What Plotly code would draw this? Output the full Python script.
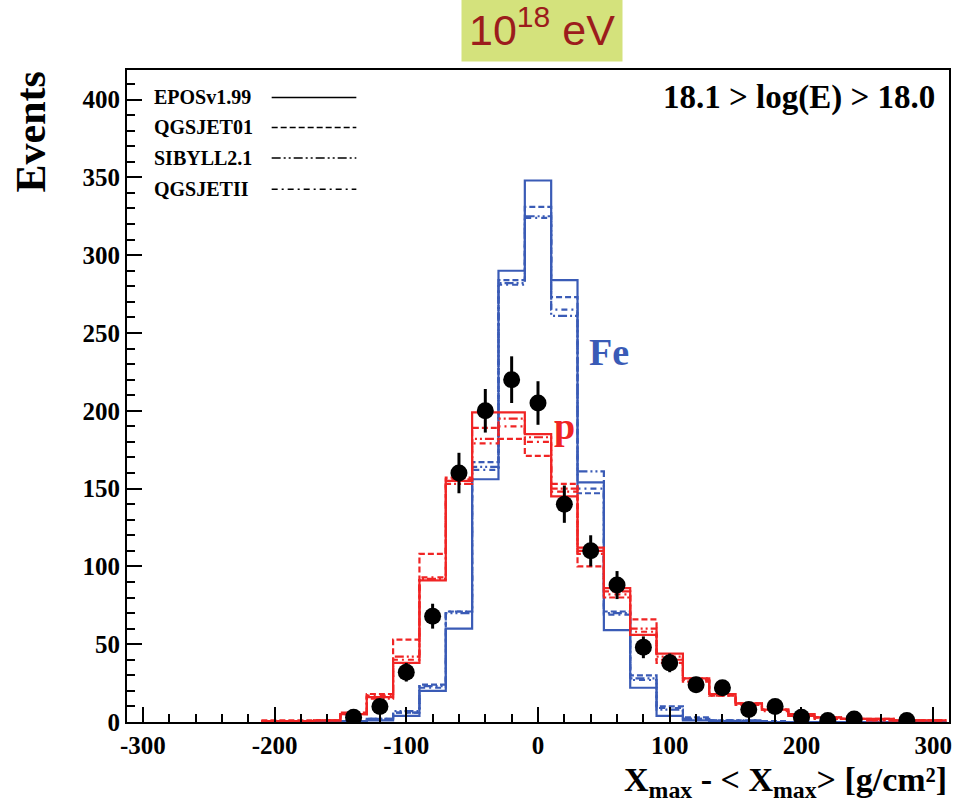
import plotly.graph_objects as go

# ---------------- data ----------------
centers = [-200, -180, -160, -140, -120, -100, -80, -60, -40, -20, 0, 20, 40,
           60, 80, 100, 120, 140, 160, 180, 200, 220, 240, 260, 280, 300]
bin_width = 20

fe_epos = [0, 0, 0, 0.5, 1, 4, 20, 60, 156, 290, 348, 284, 154, 59, 22, 4, 1, 0.5, 0, 0, 0, 0, 0, 0, 0, 0]
fe_qgs01 = [0, 0, 0, 0.5, 2, 6, 24, 71, 167, 284, 331, 273, 147, 71, 30, 10, 3, 1, 1, 0.5, 0, 0, 0, 0, 0, 0]
fe_sib = [0, 0, 0, 0.5, 2, 7, 23, 70, 164, 282, 325, 261, 161, 70, 28, 8, 2, 1, 1, 0, 0, 0, 0, 0, 0, 0]
fe_qgs2 = [0, 0, 0, 0.5, 2, 6, 22, 71, 162, 281, 324, 265, 150, 69, 27, 9, 2, 1, 0.5, 0, 0, 0, 0, 0, 0, 0]

p_epos = [0.5, 0.5, 1, 5, 16, 38, 91, 155, 199, 199, 185, 145, 112, 86, 56, 44, 28, 18, 12, 8, 5, 3, 2, 2, 1, 1]
p_qgs01 = [1, 1, 1, 5, 18, 53, 108, 157, 189, 182, 171, 153, 100, 80, 66, 38, 26, 17, 12, 8, 5, 3, 2, 2, 1, 1]
p_sib = [0.5, 0.5, 1, 6, 15, 42, 92, 153, 182, 195, 183, 150, 110, 84, 60, 42, 28, 17, 11, 8, 4, 3, 2, 1, 1, 1]
p_qgs2 = [0.5, 0.5, 1, 5, 17, 40, 93, 156, 179, 190, 180, 148, 108, 82, 58, 40, 27, 18, 12, 7, 4, 2, 2, 1, 1, 1]

data_x = [-140, -120, -100, -80, -60, -40, -20, 0, 20, 40, 60, 80, 100, 120, 140, 160, 180, 200, 220, 240, 280]
data_y = [3, 10, 32, 68, 160, 200, 220, 205, 140, 110, 88, 48, 38, 24, 22, 8, 10, 3, 1, 2, 1]
data_err = [2, 3, 6, 8, 13, 14, 15, 14, 12, 10, 9, 7, 6, 5, 5, 3, 3, 2, 1, 1, 1]

x_tickvals = [-300, -200, -100, 0, 100, 200, 300]
x_ticktext = ["-300", "-200", "-100", "0", "100", "200", "300"]

models = ["EPOSv1.99", "QGSJET01", "SIBYLL2.1", "QGSJETII"]
dashes = ["solid", "6px,3px", "9px,3px,2px,3px,2px,3px", "6px,4px,2px,4px"]

BLUE = "#3a5bb6"
RED = "#f02424"

# ---------------- figure ----------------
fig = go.Figure()

edges = [c - bin_width / 2 for c in centers] + [centers[-1] + bin_width / 2]


def step(vals):
    return vals + [vals[-1]]


for vals, dash in zip([fe_qgs01, fe_sib, fe_qgs2, fe_epos], dashes[1:] + [dashes[0]]):
    fig.add_trace(go.Scatter(x=edges, y=step(vals), mode="lines", line_shape="hv",
                             line=dict(color=BLUE, width=2.2, dash=dash), showlegend=False,
                             hoverinfo="skip"))
for vals, dash in zip([p_qgs01, p_sib, p_qgs2, p_epos], dashes[1:] + [dashes[0]]):
    fig.add_trace(go.Scatter(x=edges, y=step(vals), mode="lines", line_shape="hv",
                             line=dict(color=RED, width=2.2, dash=dash), showlegend=False,
                             hoverinfo="skip"))

fig.add_trace(go.Scatter(x=data_x, y=data_y, mode="markers",
                         marker=dict(color="black", size=17, symbol="circle"),
                         error_y=dict(type="data", array=data_err, color="black",
                                      thickness=3, width=0),
                         showlegend=False))

serif = "Liberation Serif"

annotations = []
leg_y = [0.958, 0.912, 0.865, 0.817]
shapes = []
for name, dash, yy in zip(models, dashes, leg_y):
    annotations.append(dict(xref="paper", yref="paper", x=0.03, y=yy, xanchor="left",
                            yanchor="middle", showarrow=False, text="<b>%s</b>" % name,
                            font=dict(family=serif, size=20, color="black")))
    shapes.append(dict(type="line", xref="paper", yref="paper", x0=0.176, x1=0.279,
                       y0=yy, y1=yy, line=dict(color="black", width=1.5, dash=dash)))

annotations.append(dict(xref="paper", yref="paper", x=0.985, y=0.958, xanchor="right",
                        yanchor="middle", showarrow=False,
                        text="<b>18.1 > log(E) > 18.0</b>",
                        font=dict(family=serif, size=33, color="black")))
annotations.append(dict(xref="x", yref="y", x=54, y=238, showarrow=False, text="<b>Fe</b>",
                        font=dict(family=serif, size=38, color=BLUE)))
annotations.append(dict(xref="x", yref="y", x=20, y=190, showarrow=False, text="<b>p</b>",
                        font=dict(family=serif, size=38, color=RED)))
annotations.append(dict(xref="paper", yref="paper", x=0.505, y=1.066, showarrow=False,
                        xanchor="center", yanchor="middle",
                        text="10<sup>18</sup> eV", bgcolor="#d4e27c", borderpad=7,
                        font=dict(family="Liberation Sans", size=43, color="#9c1c1c")))
annotations.append(dict(xref="paper", yref="paper", x=-0.118, y=1.0, showarrow=False,
                        xanchor="center", yanchor="top", textangle=-90,
                        text="<b>Events</b>",
                        font=dict(family=serif, size=42, color="black")))
annotations.append(dict(xref="paper", yref="paper", x=1.0, y=-0.128, showarrow=False,
                        xanchor="right", yanchor="bottom",
                        text="<b>X<sub>max</sub> - < X<sub>max</sub>> [g/cm²]</b>",
                        font=dict(family=serif, size=34, color="black")))

fig.update_layout(
    width=959, height=810,
    margin=dict(l=127, r=7, t=70, b=88),
    paper_bgcolor="white", plot_bgcolor="white",
    annotations=annotations, shapes=shapes,
    showlegend=False,
)
fig.update_xaxes(range=[-312, 312], showgrid=False, zeroline=False,
                 showline=True, linecolor="black", linewidth=2, mirror=True,
                 ticks="inside", ticklen=15, tickwidth=1.5, tickcolor="black",
                 tickmode="array", tickvals=x_tickvals,
                 ticktext=["<b>%s</b>" % t for t in x_ticktext],
                 minor=dict(ticks="inside", ticklen=8, dtick=20, tick0=0,
                            tickcolor="black", tickwidth=1.5),
                 tickfont=dict(family=serif, size=25, color="black"))
fig.update_yaxes(range=[0, 419], showgrid=False, zeroline=False,
                 showline=True, linecolor="black", linewidth=2, mirror=True,
                 ticks="inside", ticklen=15, tickwidth=1.5, tickcolor="black",
                 tick0=0, dtick=50,
                 minor=dict(ticks="inside", ticklen=8, dtick=10, tickcolor="black", tickwidth=1.5),
                 tickfont=dict(family=serif, size=25, color="black"),
                 tickprefix="<b>", ticksuffix="</b>")

fig.write_html("out.html")
